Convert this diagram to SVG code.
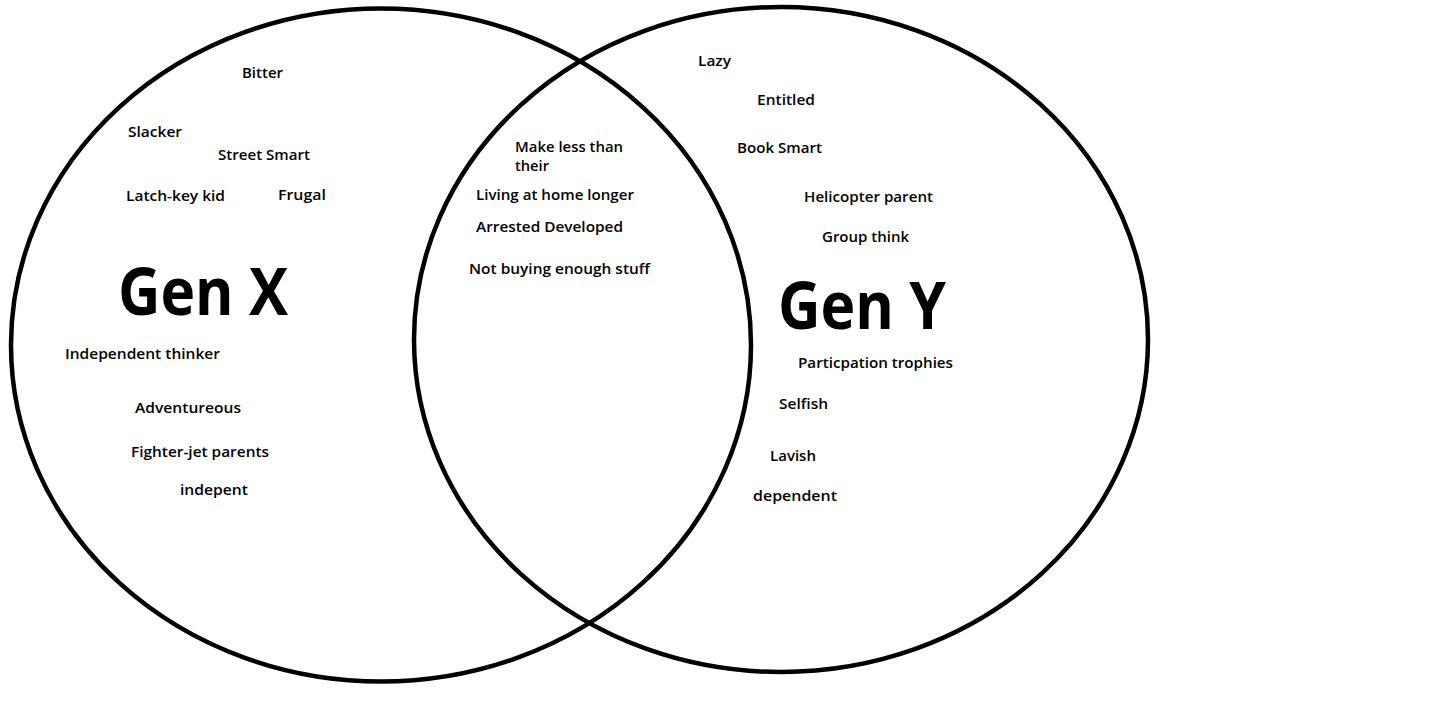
<svg xmlns="http://www.w3.org/2000/svg" width="1434" height="711" viewBox="0 0 1434 711">
<style>
.ring{fill:none;stroke:#000;stroke-width:4.5}
.t{font-family:"Open Sans","Liberation Sans",sans-serif;font-weight:600;font-size:15px;fill:#000}
.big{font-family:"Open Sans","Liberation Sans",sans-serif;font-weight:700;font-size:67px;fill:#000}
</style>
<rect width="1434" height="711" fill="#fff"/>
<g id="genx-circle"><ellipse class="ring" cx="381" cy="345" rx="370" ry="336.5"/></g>
<g id="geny-circle"><ellipse class="ring" cx="781" cy="339.5" rx="367" ry="332.5"/></g>
<g id="connectors"></g>
<g id="genx">
<text class="big" x="118" y="315" textLength="170" lengthAdjust="spacingAndGlyphs">Gen X</text>
<text class="t" x="242" y="78" textLength="41" lengthAdjust="spacingAndGlyphs">Bitter</text>
<text class="t" x="128" y="137" textLength="54" lengthAdjust="spacingAndGlyphs">Slacker</text>
<text class="t" x="218" y="160" textLength="92" lengthAdjust="spacingAndGlyphs">Street Smart</text>
<text class="t" x="126" y="201" textLength="99" lengthAdjust="spacingAndGlyphs">Latch-key kid</text>
<text class="t" x="278" y="200" textLength="48" lengthAdjust="spacingAndGlyphs">Frugal</text>
<text class="t" x="65" y="359" textLength="155" lengthAdjust="spacingAndGlyphs">Independent thinker</text>
<text class="t" x="135" y="413" textLength="106" lengthAdjust="spacingAndGlyphs">Adventureous</text>
<text class="t" x="131" y="457" textLength="138" lengthAdjust="spacingAndGlyphs">Fighter-jet parents</text>
<text class="t" x="180" y="495" textLength="68" lengthAdjust="spacingAndGlyphs">indepent</text>
</g>
<g id="both">
<text class="t" x="515" y="152" textLength="108" lengthAdjust="spacingAndGlyphs">Make less than</text>
<text class="t" x="515" y="171" textLength="34" lengthAdjust="spacingAndGlyphs">their</text>
<text class="t" x="476" y="200" textLength="158" lengthAdjust="spacingAndGlyphs">Living at home longer</text>
<text class="t" x="476" y="232" textLength="147" lengthAdjust="spacingAndGlyphs">Arrested Developed</text>
<text class="t" x="469" y="274" textLength="181" lengthAdjust="spacingAndGlyphs">Not buying enough stuff</text>
</g>
<g id="geny">
<text class="big" x="778" y="329" textLength="168" lengthAdjust="spacingAndGlyphs">Gen Y</text>
<text class="t" x="698" y="66" textLength="33" lengthAdjust="spacingAndGlyphs">Lazy</text>
<text class="t" x="757" y="105" textLength="58" lengthAdjust="spacingAndGlyphs">Entitled</text>
<text class="t" x="737" y="153" textLength="85" lengthAdjust="spacingAndGlyphs">Book Smart</text>
<text class="t" x="804" y="202" textLength="129" lengthAdjust="spacingAndGlyphs">Helicopter parent</text>
<text class="t" x="822" y="242" textLength="87" lengthAdjust="spacingAndGlyphs">Group think</text>
<text class="t" x="798" y="368" textLength="155" lengthAdjust="spacingAndGlyphs">Particpation trophies</text>
<text class="t" x="779" y="409" textLength="49" lengthAdjust="spacingAndGlyphs">Selfish</text>
<text class="t" x="770" y="461" textLength="46" lengthAdjust="spacingAndGlyphs">Lavish</text>
<text class="t" x="753" y="501" textLength="84" lengthAdjust="spacingAndGlyphs">dependent</text>
</g>
</svg>
